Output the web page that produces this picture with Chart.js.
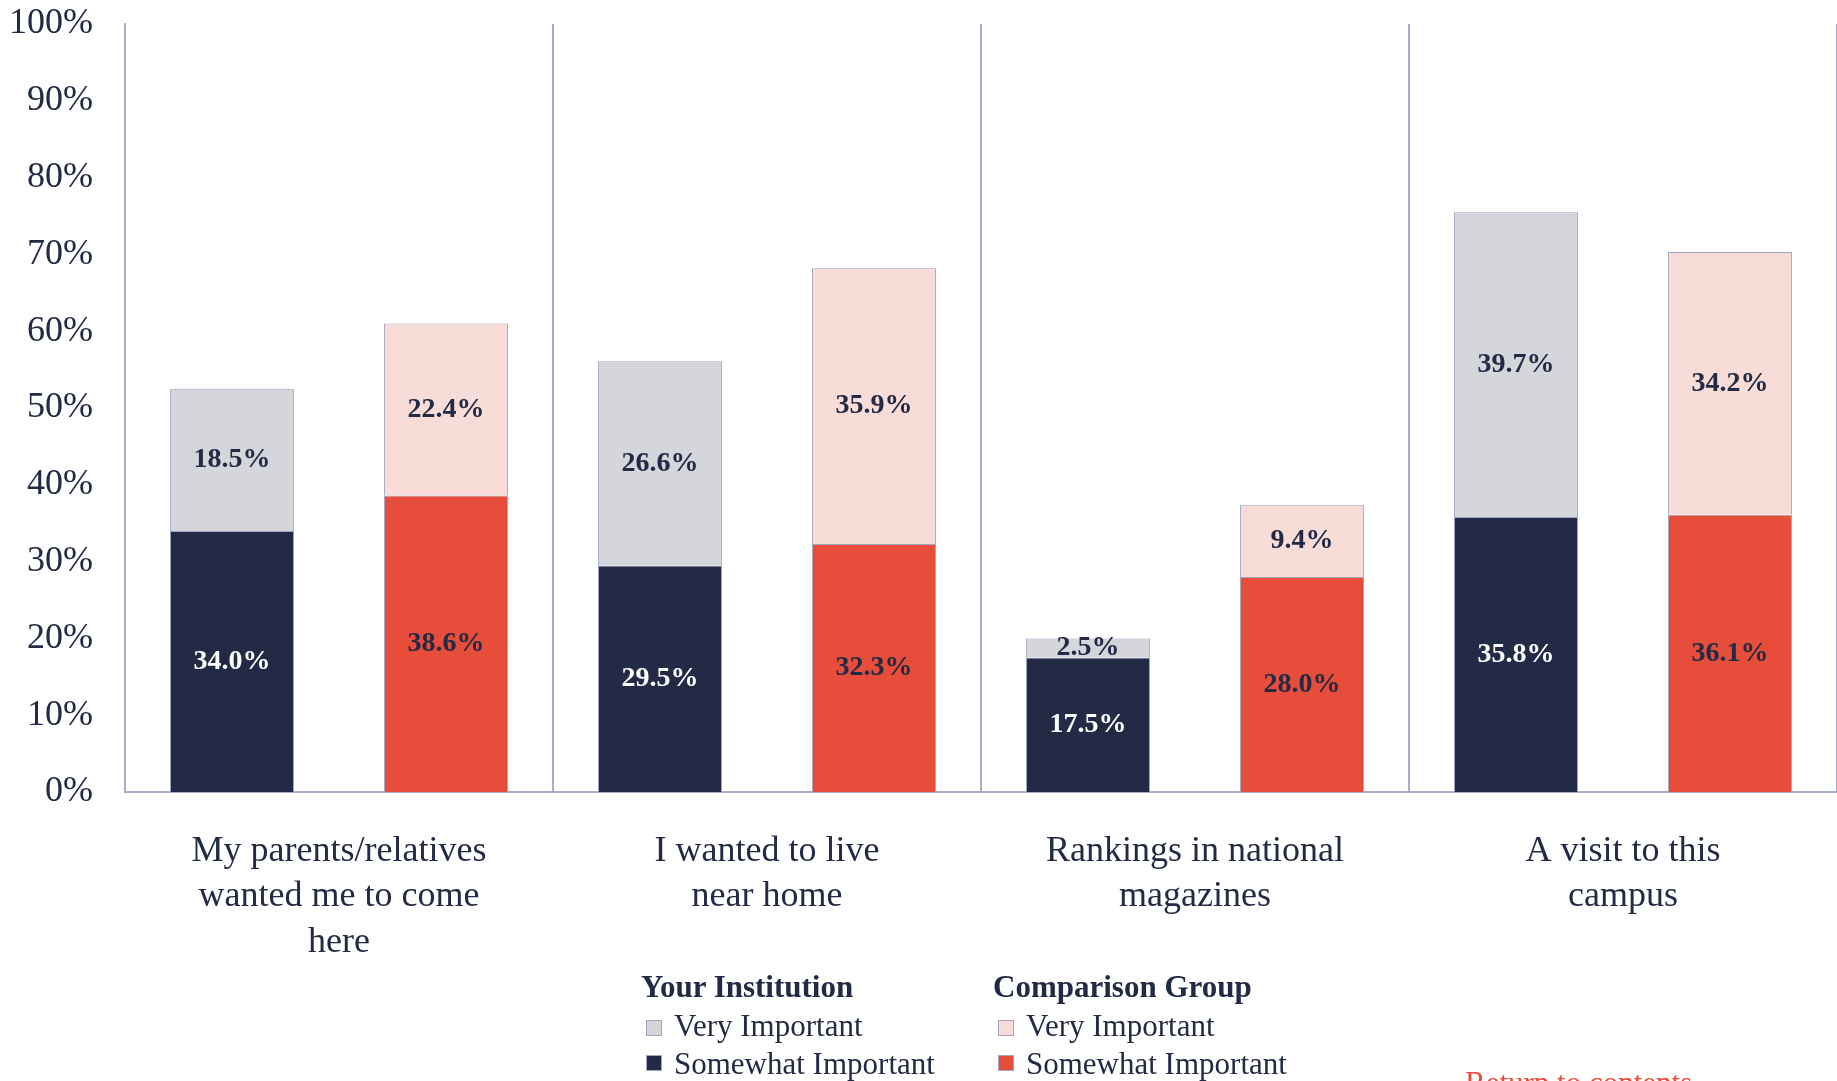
<!DOCTYPE html>
<html>
<head>
<meta charset="utf-8">
<script src="https://cdn.jsdelivr.net/npm/chart.js@4.4.0/dist/chart.umd.min.js"></script>
<style>
  body { margin: 0; background: #fff; overflow: hidden; }
  #wrap { position: relative; width: 1837px; height: 1081px; }
  #chart { position: absolute; left: 0; top: 0; }
  .lg { position: absolute; font-family: "Liberation Serif", serif; color: #222a45; font-size: 31px; white-space: nowrap; line-height: 1; }
  .lg b { font-size: 31px; }
  .sq { position: absolute; width: 16px; height: 16px; box-sizing: border-box; border: 1px solid #a3a6c2; }
  #ret { position: absolute; left: 1465px; top: 1067px; font-family: "Liberation Serif", serif; font-size: 31px; color: #e64d3a; line-height: 1; }
</style>
</head>
<body>
<div id="wrap">
  <canvas id="chart" width="1837" height="1081"></canvas>
  <div class="lg" style="left:641px; top:971px;"><b>Your Institution</b></div>
  <div class="sq" style="left:646px; top:1020px; background:#d5d6dc;"></div>
  <div class="lg" style="left:674px; top:1010px;">Very Important</div>
  <div class="sq" style="left:646px; top:1055px; background:#222a45;"></div>
  <div class="lg" style="left:674px; top:1048px;">Somewhat Important</div>
  <div class="lg" style="left:993px; top:971px;"><b>Comparison Group</b></div>
  <div class="sq" style="left:998px; top:1020px; background:#f8dcd8;"></div>
  <div class="lg" style="left:1026px; top:1010px;">Very Important</div>
  <div class="sq" style="left:998px; top:1055px; background:#e64d3a;"></div>
  <div class="lg" style="left:1026px; top:1048px;">Somewhat Important</div>
  <div id="ret">Return to contents</div>
</div>
<script>
var categories = [
    ["My parents/relatives", "wanted me to come", "here"],
    ["I wanted to live", "near home"],
    ["Rankings in national", "magazines"],
    ["A visit to this", "campus"]
];
var inst_somewhat = [34.0, 29.5, 17.5, 35.8];
var inst_very = [18.5, 26.6, 2.5, 39.7];
var comp_somewhat = [38.6, 32.3, 28.0, 36.1];
var comp_very = [22.4, 35.9, 9.4, 34.2];

var navy = '#222a45';
var axis_color = '#a9acc9';
var serif = '"Liberation Serif", serif';

// draws the value in the middle of every bar segment
var barLabels = {
    id: 'barLabels',
    afterDatasetsDraw: function (chart) {
        var ctx = chart.ctx;
        ctx.save();
        ctx.font = 'bold 28px ' + serif;
        ctx.textAlign = 'center';
        ctx.textBaseline = 'middle';
        chart.data.datasets.forEach(function (ds, i) {
            var meta = chart.getDatasetMeta(i);
            meta.data.forEach(function (bar, j) {
                ctx.fillStyle = ds.labelColor;
                ctx.fillText(ds.data[j].toFixed(1) + '%', bar.x, (bar.y + bar.base) / 2);
            });
        });
        ctx.restore();
    }
};

var ctx = document.getElementById('chart').getContext('2d');
var myChart = new Chart(ctx, {
    type: 'bar',
    data: {
        labels: categories,
        datasets: [
            { label: 'Somewhat Important', stack: 'inst', data: inst_somewhat, backgroundColor: navy, labelColor: '#ffffff' },
            { label: 'Very Important', stack: 'inst', data: inst_very, backgroundColor: '#d5d6dc', labelColor: navy },
            { label: 'Somewhat Important', stack: 'comp', data: comp_somewhat, backgroundColor: '#e64d3a', labelColor: navy },
            { label: 'Very Important', stack: 'comp', data: comp_very, backgroundColor: '#f8dcd8', labelColor: navy }
        ]
    },
    options: {
        responsive: false,
        animation: false,
        categoryPercentage: 1.0,
        barPercentage: 0.58,
        borderWidth: 1,
        borderColor: '#a3a6c2',
        layout: { padding: 0 },
        plugins: {
            legend: { display: false },
            tooltip: { enabled: false }
        },
        scales: {
            x: {
                stacked: true,
                grid: { offset: true, color: axis_color, lineWidth: 2, drawTicks: false },
                border: { display: true, color: axis_color, width: 2 },
                ticks: {
                    color: navy,
                    font: { family: serif, size: 36, lineHeight: 1.26 },
                    padding: 37,
                    maxRotation: 0,
                    autoSkip: false
                },
                afterFit: function (scale) { scale.height = 289; }
            },
            y: {
                stacked: true,
                min: 0,
                max: 100,
                grid: { display: false, drawTicks: false },
                border: { display: true, color: axis_color, width: 2 },
                ticks: {
                    stepSize: 10,
                    color: navy,
                    font: { family: serif, size: 36 },
                    padding: 32,
                    callback: function (v) { return v + '%'; }
                },
                afterFit: function (scale) {
                    scale.width = 125;
                    // keep the plot top near the window edge like the original
                    scale.paddingTop = 24;
                    scale.paddingBottom = 0;
                }
            }
        }
    },
    plugins: [barLabels]
});
</script>
</body>
</html>
